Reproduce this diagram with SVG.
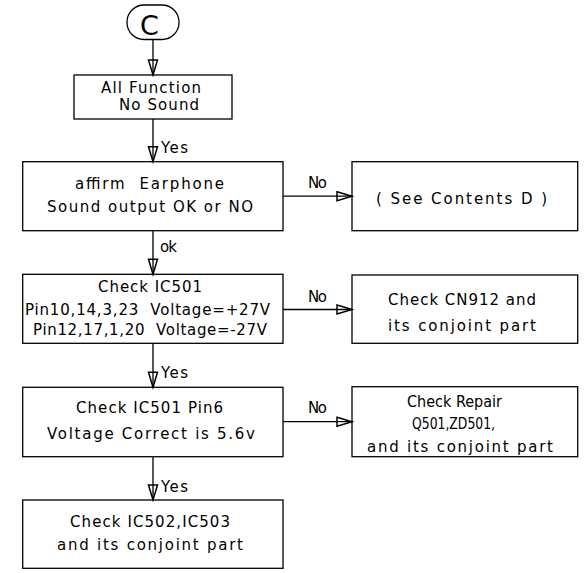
<svg xmlns="http://www.w3.org/2000/svg" width="588" height="573" viewBox="0 0 588 573">
<defs>
<style>
.box{fill:#fff;stroke:#000;stroke-width:1.3}
.t{font-family:"DejaVu Sans","Liberation Sans",Arial,sans-serif;font-size:15px;fill:#000;white-space:pre}
.c{font-family:"DejaVu Sans","Liberation Sans",Arial,sans-serif;font-size:27px;fill:#000}
.ln{stroke:#000;stroke-width:1.3;fill:none}
</style>
<path id="ahd" d="M-4.5,-15 L0,0 L4.5,-15 Z" fill="none" stroke="#000" stroke-width="1.5"/>
<path id="ahr" d="M-15,-4.5 L0,0 L-15,4.5 Z" fill="none" stroke="#000" stroke-width="1.5"/>
</defs>
<rect width="588" height="573" fill="#fff"/>
<g id="start">
<rect class="box" x="127" y="5" width="52" height="34.5" rx="17" ry="17"/>
<text class="c" x="140" y="35">C</text>
</g>
<g id="n1">
<rect class="box" x="74" y="75" width="158" height="44"/>
<text class="t" x="101" y="92.5" textLength="100" lengthAdjust="spacing">All Function</text>
<text class="t" x="119" y="110" textLength="80" lengthAdjust="spacing">No Sound</text>
</g>
<g id="n2">
<rect class="box" x="22.7" y="161.7" width="260.3" height="69"/>
<text class="t" x="75" y="189" textLength="149" lengthAdjust="spacing" xml:space="preserve">affirm  Earphone</text>
<text class="t" x="47" y="212" textLength="206" lengthAdjust="spacing">Sound output OK or NO</text>
</g>
<g id="n3">
<rect class="box" x="352" y="161.7" width="225.7" height="69"/>
<text class="t" x="376" y="204" textLength="171" lengthAdjust="spacing">( See Contents D )</text>
</g>
<g id="n4">
<rect class="box" x="22.7" y="274.3" width="260.3" height="69"/>
<text class="t" x="98" y="292" textLength="104" lengthAdjust="spacing">Check IC501</text>
<text class="t" x="25" y="315" textLength="245" lengthAdjust="spacing" xml:space="preserve">Pin10,14,3,23  Voltage=+27V</text>
<text class="t" x="33" y="335" textLength="234" lengthAdjust="spacing" xml:space="preserve">Pin12,17,1,20  Voltage=-27V</text>
</g>
<g id="n5">
<rect class="box" x="352" y="275" width="225.7" height="68.3"/>
<text class="t" x="388" y="305" textLength="148" lengthAdjust="spacing">Check CN912 and</text>
<text class="t" x="388" y="331" textLength="148" lengthAdjust="spacing">its conjoint part</text>
</g>
<g id="n6">
<rect class="box" x="22.7" y="387.3" width="260.3" height="69.4"/>
<text class="t" x="76" y="413.3" textLength="147" lengthAdjust="spacing">Check IC501 Pin6</text>
<text class="t" x="47" y="439.3" textLength="208" lengthAdjust="spacing">Voltage Correct is 5.6v</text>
</g>
<g id="n7">
<rect class="box" x="22.7" y="500" width="260.3" height="68.3"/>
<text class="t" x="70" y="526.7" textLength="160" lengthAdjust="spacing">Check IC502,IC503</text>
<text class="t" x="57" y="550" textLength="186" lengthAdjust="spacing">and its conjoint part</text>
</g>
<g id="n8">
<rect class="box" x="352" y="386.7" width="225.7" height="70"/>
<text class="t" x="407" y="407.3" textLength="95" lengthAdjust="spacingAndGlyphs">Check Repair</text>
<text class="t" x="412" y="429.3" textLength="83" lengthAdjust="spacingAndGlyphs">Q501,ZD501,</text>
<text class="t" x="367" y="451.7" textLength="186" lengthAdjust="spacing">and its conjoint part</text>
</g>
<g id="connectors">
<line class="ln" x1="153" y1="39.5" x2="153" y2="75"/>
<use href="#ahd" x="153" y="75"/>
<line class="ln" x1="153" y1="119" x2="153" y2="161.7"/>
<use href="#ahd" x="153" y="161.7"/>
<line class="ln" x1="153" y1="230.7" x2="153" y2="274.3"/>
<use href="#ahd" x="153" y="274.3"/>
<line class="ln" x1="153" y1="343.3" x2="153" y2="387.3"/>
<use href="#ahd" x="153" y="387.3"/>
<line class="ln" x1="153" y1="456.7" x2="153" y2="500"/>
<use href="#ahd" x="153" y="500"/>
<line class="ln" x1="283" y1="196.2" x2="352" y2="196.2"/>
<use href="#ahr" x="352" y="196.2"/>
<line class="ln" x1="283" y1="309.5" x2="352" y2="309.5"/>
<use href="#ahr" x="352" y="309.5"/>
<line class="ln" x1="283" y1="421.7" x2="352" y2="421.7"/>
<use href="#ahr" x="352" y="421.7"/>
<text class="t" x="161" y="153" textLength="27" lengthAdjust="spacing">Yes</text>
<text class="t" x="308" y="188" textLength="19" lengthAdjust="spacing">No</text>
<text class="t" x="160" y="252" textLength="17" lengthAdjust="spacing">ok</text>
<text class="t" x="308" y="302" textLength="19" lengthAdjust="spacing">No</text>
<text class="t" x="161" y="378" textLength="27" lengthAdjust="spacing">Yes</text>
<text class="t" x="308" y="413" textLength="19" lengthAdjust="spacing">No</text>
<text class="t" x="161" y="492" textLength="27" lengthAdjust="spacing">Yes</text>
</g>
</svg>
